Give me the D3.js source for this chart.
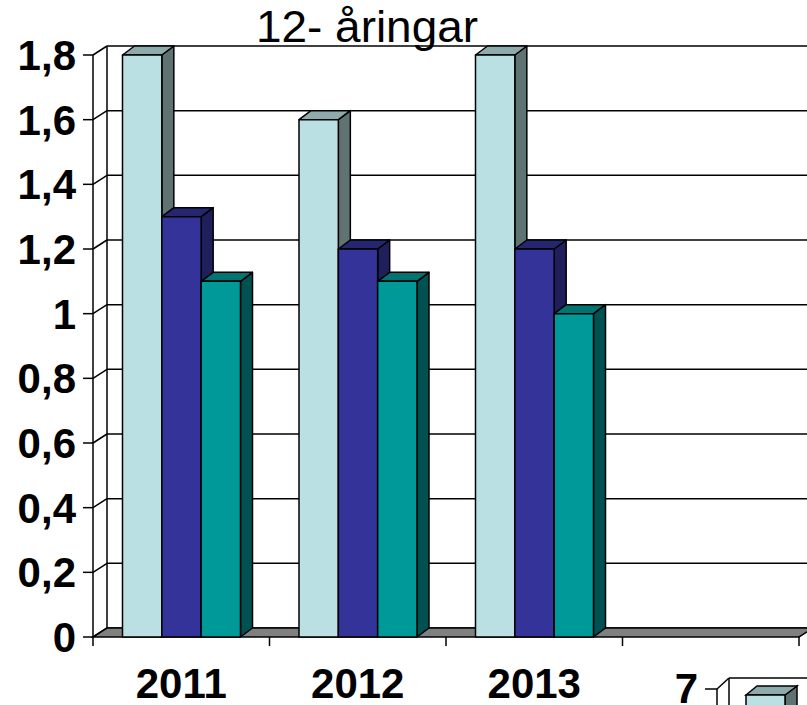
<!DOCTYPE html>
<html>
<head>
<meta charset="utf-8">
<script src="https://cdn.jsdelivr.net/npm/d3@7"></script>
<style>
  html, body { margin: 0; padding: 0; background: #fff; }
  svg { display: block; }
</style>
</head>
<body>
<div id="chart"></div>
<script>
// data
const categories = ["2011", "2012", "2013", ""];
const seriesNames = ["s1", "s2", "s3"];
const s1 = [1.8, 1.6, 1.8, null];
const s2 = [1.3, 1.2, 1.2, null];
const s3 = [1.1, 1.1, 1.0, null];
const yTicks = [0, 0.2, 0.4, 0.6, 0.8, 1, 1.2, 1.4, 1.6, 1.8];
const title = "12- åringar";
// fragment of next chart peeking in at the bottom
const nextTickLabel = "7";

const W = 807, H = 705;
const depthX = 14, depthY = -9;   // wall depth
const barDX = 12, barDY = -9;     // bar depth

const faces = [
  { front: "#BBE0E3", side: "#5F7373", top: "#8FAAAD" },
  { front: "#333399", side: "#1F1F5C", top: "#262670" },
  { front: "#009999", side: "#005252", top: "#007373" }
];

const svg = d3.select("#chart").append("svg")
  .attr("width", W).attr("height", H);

const x0 = d3.scaleBand().domain(categories.map((c, i) => i)).range([93, 799]).paddingInner(0).paddingOuter(0);
const x1 = d3.scaleBand().domain(seriesNames).range([29.5, 147.5]);
const y = d3.scaleLinear().domain([0, 1.8]).range([637, 55]);

const right = x0.range()[1];

// back wall gridlines
svg.append("g").selectAll("line").data(yTicks).enter().append("line")
  .attr("x1", 93 + depthX).attr("x2", W + 10)
  .attr("y1", d => y(d) + depthY).attr("y2", d => y(d) + depthY)
  .attr("stroke", "#000").attr("stroke-width", 1.5);

// left side wall lines
svg.append("g").selectAll("line").data(yTicks).enter().append("line")
  .attr("x1", 93).attr("x2", 93 + depthX)
  .attr("y1", d => y(d)).attr("y2", d => y(d) + depthY)
  .attr("stroke", "#000").attr("stroke-width", 1.5);

svg.append("line")
  .attr("x1", 93 + depthX).attr("x2", 93 + depthX)
  .attr("y1", y(1.8) + depthY).attr("y2", y(0) + depthY)
  .attr("stroke", "#000").attr("stroke-width", 1.5);

// floor
svg.append("path")
  .attr("d", `M93,${y(0)} L${right},${y(0)} L${right + depthX},${y(0) + depthY} L${93 + depthX},${y(0) + depthY} Z`)
  .attr("fill", "#808080").attr("stroke", "#000").attr("stroke-width", 1.5);

// front axis
svg.append("line")
  .attr("x1", 93).attr("x2", 93)
  .attr("y1", y(1.8)).attr("y2", y(0))
  .attr("stroke", "#000").attr("stroke-width", 1.5);

// bars
const series = [s1, s2, s3];
const bw = x1.bandwidth();
const bars = svg.append("g");
categories.forEach((c, ci) => {
  series.forEach((vals, si) => {
    const v = vals[ci];
    if (v == null) return;
    const xl = x0(ci) + x1(seriesNames[si]);
    const xr = xl + bw;
    const yt = y(v), yb = y(0);
    const g = bars.append("g").attr("stroke", "#000").attr("stroke-width", 1.5).attr("stroke-linejoin", "round");
    g.append("path")
      .attr("d", `M${xr},${yt} L${xr + barDX},${yt + barDY} L${xr + barDX},${yb + barDY} L${xr},${yb} Z`)
      .attr("fill", faces[si].side);
    g.append("path")
      .attr("d", `M${xl},${yt} L${xl + barDX},${yt + barDY} L${xr + barDX},${yt + barDY} L${xr},${yt} Z`)
      .attr("fill", faces[si].top);
    g.append("rect")
      .attr("x", xl).attr("y", yt).attr("width", bw).attr("height", yb - yt)
      .attr("fill", faces[si].front);
  });
});

// y axis ticks and labels
const yAxis = svg.append("g");
yAxis.selectAll("line").data(yTicks).enter().append("line")
  .attr("x1", 83).attr("x2", 93)
  .attr("y1", d => y(d)).attr("y2", d => y(d))
  .attr("stroke", "#000").attr("stroke-width", 1.5);
const fmt = d => String(+d.toFixed(1)).replace(".", ",");
yAxis.selectAll("text").data(yTicks).enter().append("text")
  .attr("x", 76).attr("y", d => y(d) + 15)
  .attr("text-anchor", "end")
  .attr("font-family", "Liberation Sans, Arial, sans-serif")
  .attr("font-weight", "bold").attr("font-size", 42)
  .text(fmt);

// x axis ticks and labels
const xTickPos = categories.map((c, i) => x0(i)).concat([right]);
svg.append("g").selectAll("line").data(xTickPos).enter().append("line")
  .attr("x1", d => d).attr("x2", d => d)
  .attr("y1", y(0)).attr("y2", y(0) + 9)
  .attr("stroke", "#000").attr("stroke-width", 1.5);
svg.append("g").selectAll("text").data(categories).enter().append("text")
  .attr("x", (d, i) => x0(i) + x0.bandwidth() / 2)
  .attr("y", 698)
  .attr("text-anchor", "middle")
  .attr("font-family", "Liberation Sans, Arial, sans-serif")
  .attr("font-weight", "bold").attr("font-size", 42)
  .text(d => d);

// title
svg.append("text")
  .attr("x", 256).attr("y", 42)
  .attr("font-family", "Liberation Sans, Arial, sans-serif")
  .attr("font-size", 44)
  .attr("textLength", 222).attr("lengthAdjust", "spacingAndGlyphs")
  .text(title);

// next chart fragment
const frag = svg.append("g").attr("stroke", "#000").attr("stroke-width", 1.5);
frag.append("line").attr("x1", 705).attr("x2", 717).attr("y1", 689).attr("y2", 689);
frag.append("line").attr("x1", 717).attr("x2", 729).attr("y1", 689).attr("y2", 678);
frag.append("line").attr("x1", 729).attr("x2", W + 5).attr("y1", 678).attr("y2", 678);
frag.append("line").attr("x1", 717).attr("x2", 717).attr("y1", 689).attr("y2", H + 5);
frag.append("line").attr("x1", 729).attr("x2", 729).attr("y1", 678).attr("y2", H + 5);
frag.append("path").attr("d", `M785,695 L797,686 L797,${H + 5} L785,${H + 5} Z`).attr("fill", faces[0].side);
frag.append("path").attr("d", "M746,695 L757,686 L797,686 L785,695 Z").attr("fill", faces[0].top);
frag.append("rect").attr("x", 746).attr("y", 695).attr("width", 39).attr("height", 20).attr("fill", faces[0].front);
svg.append("text")
  .attr("x", 698).attr("y", 703)
  .attr("text-anchor", "end")
  .attr("font-family", "Liberation Sans, Arial, sans-serif")
  .attr("font-weight", "bold").attr("font-size", 42)
  .text(nextTickLabel);
</script>
</body>
</html>
